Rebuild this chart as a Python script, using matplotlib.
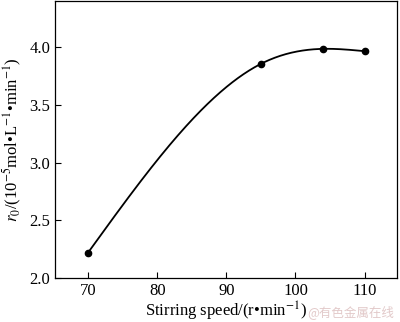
import numpy as np
import matplotlib
matplotlib.use("Agg")
import matplotlib.pyplot as plt

# data
speed = [70, 95, 104, 110]
rate = [2.22, 3.855, 3.985, 3.965]

x_ticks = [70, 80, 90, 100, 110]
y_ticks = [2.0, 2.5, 3.0, 3.5, 4.0]


def natural_spline(x, y, xs):
    # natural cubic spline through the measured points (smooth line only)
    x = np.asarray(x, float)
    y = np.asarray(y, float)
    n = len(x)
    h = np.diff(x)
    A = np.zeros((n, n))
    b = np.zeros(n)
    A[0, 0] = A[-1, -1] = 1
    for i in range(1, n - 1):
        A[i, i - 1] = h[i - 1]
        A[i, i] = 2 * (h[i - 1] + h[i])
        A[i, i + 1] = h[i]
        b[i] = 3 * ((y[i + 1] - y[i]) / h[i] - (y[i] - y[i - 1]) / h[i - 1])
    c = np.linalg.solve(A, b)
    out = np.empty_like(xs)
    for k, xv in enumerate(xs):
        i = min(np.searchsorted(x, xv) - 1, n - 2)
        i = max(i, 0)
        dx = xv - x[i]
        bb = (y[i + 1] - y[i]) / h[i] - h[i] * (2 * c[i] + c[i + 1]) / 3
        d = (c[i + 1] - c[i]) / (3 * h[i])
        out[k] = y[i] + bb * dx + c[i] * dx ** 2 + d * dx ** 3
    return out


plt.rcParams["font.family"] = ["Liberation Serif", "DejaVu Serif"]
plt.rcParams["mathtext.fontset"] = "stix"

fig = plt.figure(figsize=(4.0, 3.22), dpi=100)
ax = fig.add_axes([0.1375, 0.137, 0.855, 0.86])

xs = np.linspace(speed[0], speed[-1], 300)
ax.plot(xs, natural_spline(speed, rate, xs), color="black", lw=1.3)
ax.plot(speed, rate, "o", color="black", ms=4.5)

ax.set_xlim(65.2, 114.7)
ax.set_ylim(2.0, 4.4)
ax.set_xticks(x_ticks)
ax.set_yticks(y_ticks)
ax.set_yticklabels([f"{v:.1f}" for v in y_ticks])
ax.tick_params(direction="in", length=4, width=0.8, labelsize=12, top=False, right=False)
for s in ax.spines.values():
    s.set_linewidth(0.9)

ax.set_xlabel(r"Stirring speed/(r•min$^{-1}$)", fontsize=12, labelpad=1)
ax.set_ylabel(r"$r_0$/(10$^{-5}$mol•L$^{-1}$•min$^{-1}$)", fontsize=12, labelpad=4)

fig.text(0.985, 0.01, "@有色金属在线", color="#e2c9c9", fontsize=9, ha="right", va="bottom",
         family=["Noto Sans CJK SC", "DejaVu Sans"])

fig.savefig("out.png", dpi=100)
